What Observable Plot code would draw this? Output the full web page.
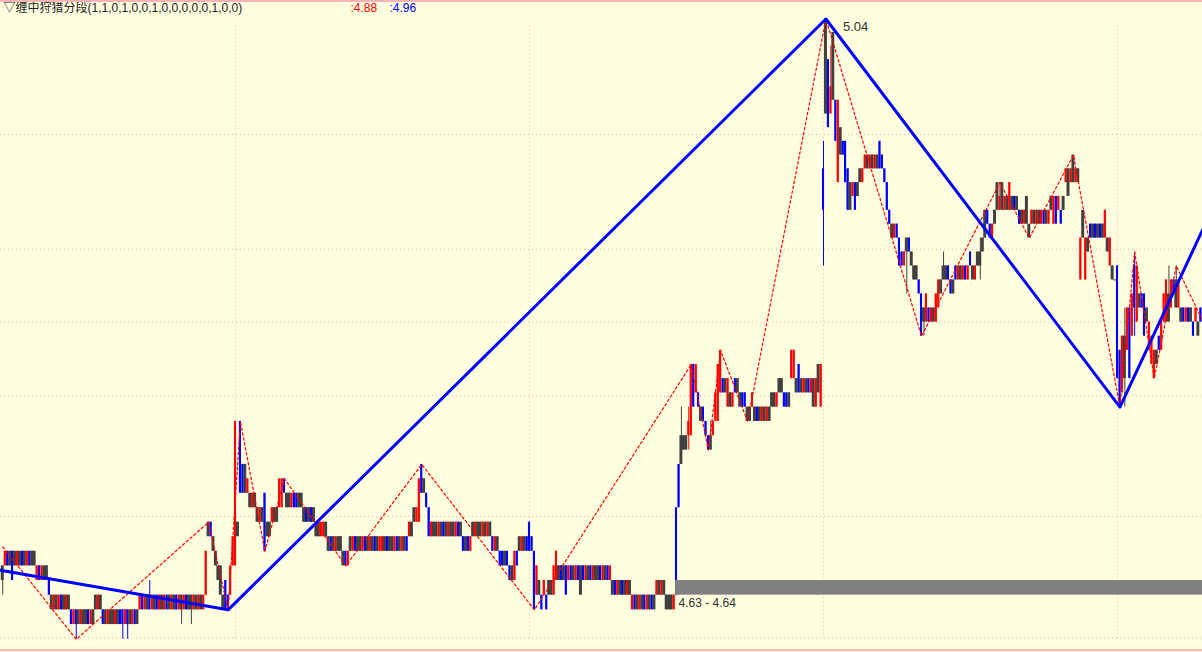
<!DOCTYPE html>
<html><head><meta charset="utf-8">
<script src="https://cdn.jsdelivr.net/npm/d3@7"></script>
<script src="https://cdn.jsdelivr.net/npm/@observablehq/plot@0.6"></script>
<style>
html,body{margin:0;padding:0;background:#ffffe0;}
#wrap{position:relative;width:1202px;height:652px;overflow:hidden;}
#wrap svg{display:block;}
#wrap::before{content:"";position:absolute;left:0;top:0;width:1202px;height:2px;background:#f7b4b4;}
#wrap::after{content:"";position:absolute;left:0;top:649px;width:1202px;height:2px;background:#f7b4b4;}
</style>
</head><body><div id="wrap"></div>
<script>
// price levels are written in cents above basePrice
const basePrice = 4.60;
// token: "bodyLo-bodyHi[/wickLo-wickHi]:colours" (one colour letter per bar; r=up, b=down, k=dark)
const seg0 = ["4-5/3-5:k","5-6:rbk","4-6:b","5-6:k","5-6:rkbkrbkk","4-5:rbrk","4-5:k","3-4:b","2-3:krkrbkrk","1-2:br","1-2/0-2:b","1-2:krk","1-2:kbrk","2-3:krk","1-2:bkrkkrkb","1-2/0-2:b","1-2:r","1-2/0-2:b","1-2:krbk","2-3:rbrk","2-3/2-4:b","2-3:rkbrkrbkrkbr","2-3/1-3:k","2-3:rbk","2-3/1-3:k","2-3:rkrk","2-3:r","3-6:r","7-8:k","7-8:b","6-7:k","5-6:k","4-5:k","3-5:k","2-3:k","2-4:b","2-3:b","3-5:r","5-7:r"];
const seg1 = ["5-15:r","7-8:k","10-15:b","10-12:b","10-12:k","10-11:r","9-10:krk","8-9:kr","8-9:k","6-10:b","7-8:kk","8-9:rk","8-9:k","9-11:r","9-11:r","10-11:b","9-10:kk","9-10:rb","9-10:bk","9-10:k","8-9:k","8-9:bkbk","7-8:kkrrk","6-7:kbk","6-7:rkk","5-6:kbr","6-7:krbkkrbkrkbkrrkbkkrbkrkb","7-8:r","7-8:k","8-9:k","8-9:r","8-11:r","10-12:b","10-11:k","9-10:b","7-9:b","7-8:rkkrkbkrk","7-8:krbk","6-7:bk","6-7:br","7-8:krkkrk","7-8:rk","6-7:b","6-7:rk","5-6:bbkb","4-5:bk","4-6:r","5-6:b","6-7:krkb"];
const seg2 = ["6-8:b","6-7:b","2-6:b","3-5:r","3-4:k","2-3:b","3-4:r","2-3:b","3-4:k","3-4:k","3-5:r","4-6:r","4-5:k","4-5:bk","3-5:b","4-5:rbkrb","3-5:k","4-5:brkbrkkbrkbr","3-4:kbrkbkrk","2-3:rbkrkbrkbk","3-4:rkrk","2-3:kkk","2-3:r","3-9:b","9-12:b","12-14/12-16:k","13-14:kk","14-15/13-16:r","14-19:r","16-19:b","17-19:r","16-17:b","15-16:k","15-16:b","14-15:b","13-14:b","13-14/13-15:k","14-15:r","15-17:r","15-19:r","17-20:r","17-18:b","17-18:k","16-18:r","16-17:k","16-17:r","17-18:b","17-18:k","16-17:kbb","15-16:kk","16-17:r","15-16:kbkrkrk","16-17:kkr","17-18:kk","16-17:bbk","18-20:rr","17-18:k","17-19:b","17-18:krkbr","16-18:k","16-18:r","17-19:k","16-19:r"];
const seg3 = ["30-33/26-35:b","37-44:k","36-41:b","37-39/37-42:r","38-43:k","35-38:b","32-38:r","34-36:k","34-35:b","32-35:b","30-33:b","30-32:k","31-32:r","30-32:b","31-32:k","32-33:k","32-33:r","33-34:rkrkrk","33-35:b","33-34:b","32-33:b","30-32:b","29-30:b","28-29:krb","26-28:b","26-27:br","27-28/24-28:k","27-28:b","26-27:k","25-26:kk","24-25:b","21-24:b","22-23/21-23:k","22-24:r","22-23:brk","22-24:r","23-25:r","24-25:k","25-26/25-27:k","25-26:kb","24-25:bk","25-26:brkrbr","26-27:b","25-26:kr","26-27:k","26-27/25-28:k","27-28:k","28-30:k","29-30:b","28-29:br","29-30:k","30-32:k","30-31/30-32:r","30-32:k","30-31:rk","30-32:r","30-31:kbk","29-30:bkr","29-31:k","28-29:k","29-30:rkrkrbkr","30-31:k","29-31:r","29-31:b","30-31:r","29-30:b","30-31:k","32-33:r","31-33:k","32-33:r","32-34:k","32-33:rk","25-28:r","28-30:k","25-28:r","27-28:k","28-29:bkbkbk","28-30:r","27-28:k","26-28:r","25-26:k","25-25:k"];
const seg4 = ["18-26:b","16-20:b","17-21:r","18-21/16-23:k","20-23:r","18-23:b","21-24:r","23-26/21-27:b","22-26:r","23-24:k","23-24:b","21-24:b","22-23:k","20-22:r","19-21:r","18-20:r","19-20:k","20-21:b","20-22:r","22-24:r","22-25:r","22-24/22-26:k","23-25:r","24-25:b","23-25/23-26:k","23-25:r","22-23:k","22-23:brbk","21-22:b","22-23:r","21-22:k","22-23:b"];

// zigzag vertices: [bar index, price]
const blueZigzag = [[-1,4.647],[92,4.62],[336,5.04],[456,4.76],[490,4.887]];
const redZigzag = [[0,4.663],[30,4.60],[84,4.68],[92,4.62],[97,4.75],[107,4.66],[115,4.71],[140,4.65],[171,4.72],[217,4.62],[281,4.79],[288,4.73],[293,4.80],[304,4.75],[336,5.04],[375,4.81],[407,4.92],[419,4.88],[437,4.94],[456,4.76],[462,4.87],[470,4.78],[479,4.86],[490,4.82]];

const gridPrices = [4.601, 4.684, 4.768, 4.820, 4.872, 4.955];
const sessionBreaks = [95, 215, 335, 455];
const peakPoint = {i: 336, p: 5.04};
const bandLow = 4.63, bandHigh = 4.64, bandStart = 274.6, bandEnd = 490;
const titleText = "▽缠中狩猎分段(1,1,0,1,0,0,1,0,0,0,0,0,1,0,0)";
const redValue = 4.88, blueValue = 4.96;

const colorMap = {r: "#ff0000", b: "#0000ff", k: "#404040"};
const bars = [];
for (const tok of [...seg0, ...seg1, ...seg2, ...seg3, ...seg4]) {
  const [rng, cols] = tok.split(":");
  const [body, wick] = rng.split("/");
  const [lo, hi] = body.split("-").map(Number);
  const [wlo, whi] = (wick || body).split("-").map(Number);
  for (const ch of cols) {
    bars.push({i: bars.length, lo: basePrice + lo / 100, hi: basePrice + hi / 100,
      wlo: basePrice + wlo / 100, whi: basePrice + whi / 100, c: colorMap[ch], k: ch});
  }
}
const halfW = d => d.k === "k" ? 0.6 : 0.43;
const toPts = arr => arr.map(([i, p]) => ({i, p}));
const font = "Liberation Sans, Arial, 'Noto Sans CJK SC', sans-serif";

const chart = Plot.plot({
  width: 1202, height: 652,
  marginTop: 0, marginRight: 0, marginBottom: 0, marginLeft: 0,
  x: {domain: [-0.918, 489.69], range: [0, 1202], axis: null},
  y: {type: "log", domain: [4.60, 5.04], range: [638.8, 18.5], axis: null},
  color: {type: "identity"},
  style: {background: "#ffffe0", fontFamily: font},
  marks: [
    Plot.ruleY(gridPrices, {stroke: "#eeb0a8", strokeDasharray: "1,3", strokeWidth: 1}),
    Plot.ruleX(sessionBreaks, {x: d => d, y1: () => 5.035, y2: () => 4.598, stroke: "#dcc0a8", strokeDasharray: "1,3", strokeWidth: 1}),
    Plot.ruleX(bars, {x: "i", y1: "wlo", y2: "whi", stroke: "c", strokeWidth: 1}),
    Plot.rect(bars.filter(d => d.hi > d.lo), {x1: d => d.i - halfW(d), x2: d => d.i + halfW(d), y1: "lo", y2: "hi", fill: "c"}),
    Plot.ruleY(bars.filter(d => d.hi === d.lo), {y: "lo", x1: d => d.i - 0.6, x2: d => d.i + 0.6, stroke: "c"}),
    Plot.rect([{x1: bandStart, x2: bandEnd, y1: bandLow, y2: bandHigh}], {x1: "x1", x2: "x2", y1: "y1", y2: "y2", fill: "#808080"}),
    Plot.line(toPts(redZigzag), {x: "i", y: "p", stroke: "#ff0000", strokeWidth: 1.2, strokeDasharray: "2.5,2.5"}),
    Plot.line(toPts(blueZigzag), {x: "i", y: "p", stroke: "#0000ff", strokeWidth: 3}),
    Plot.text([peakPoint], {x: "i", y: "p", text: d => d.p.toFixed(2), dx: 17, dy: 8, textAnchor: "start", fill: "#333333", fontSize: 13, fontFamily: font}),
    Plot.text([{i: bandStart, p: bandLow}], {x: "i", y: "p", text: () => `${bandLow.toFixed(2)} - ${bandHigh.toFixed(2)}`, dx: 3, dy: 8, textAnchor: "start", fill: "#333333", fontSize: 12, fontFamily: font}),
    Plot.text([titleText], {frameAnchor: "top-left", text: d => d, dx: 3, dy: 3, lineAnchor: "top", textAnchor: "start", fill: "#222222", fontSize: 12, fontFamily: font}),
    Plot.text([redValue], {frameAnchor: "top-left", text: d => ":" + d.toFixed(2), dx: 350, dy: 3, lineAnchor: "top", textAnchor: "start", fill: "#ff0000", fontSize: 12, fontFamily: font}),
    Plot.text([blueValue], {frameAnchor: "top-left", text: d => ":" + d.toFixed(2), dx: 389, dy: 3, lineAnchor: "top", textAnchor: "start", fill: "#0000ff", fontSize: 12, fontFamily: font})
  ]
});
document.getElementById("wrap").appendChild(chart);
</script>
</body></html>
